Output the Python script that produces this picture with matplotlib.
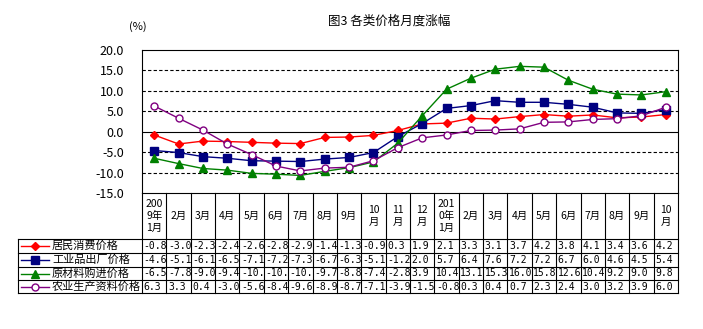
import matplotlib
matplotlib.use("Agg")
import matplotlib.pyplot as plt
from matplotlib.lines import Line2D

plt.rcParams['font.family'] = ['Noto Sans CJK SC', 'DejaVu Sans']
plt.rcParams['axes.unicode_minus'] = False

months = ["200\n9年\n1月", "2月", "3月", "4月", "5月", "6月", "7月", "8月", "9月",
          "10\n月", "11\n月", "12\n月", "201\n0年\n1月", "2月", "3月", "4月", "5月",
          "6月", "7月", "8月", "9月", "10\n月"]

cpi = [-0.8, -3.0, -2.3, -2.4, -2.6, -2.8, -2.9, -1.4, -1.3, -0.9, 0.3, 1.9,
       2.1, 3.3, 3.1, 3.7, 4.2, 3.8, 4.1, 3.4, 3.6, 4.2]
ppi = [-4.6, -5.1, -6.1, -6.5, -7.1, -7.2, -7.3, -6.7, -6.3, -5.1, -1.2, 2.0,
       5.7, 6.4, 7.6, 7.2, 7.2, 6.7, 6.0, 4.6, 4.5, 5.4]
raw = [-6.5, -7.8, -9.0, -9.4, -10.2, -10.4, -10.7, -9.7, -8.8, -7.4, -2.8, 3.9,
       10.4, 13.1, 15.3, 16.0, 15.8, 12.6, 10.4, 9.2, 9.0, 9.8]
agri = [6.3, 3.3, 0.4, -3.0, -5.6, -8.4, -9.6, -8.9, -8.7, -7.1, -3.9, -1.5,
        -0.8, 0.3, 0.4, 0.7, 2.3, 2.4, 3.0, 3.2, 3.9, 6.0]

names = ["居民消费价格", "工业品出厂价格", "原材料购进价格", "农业生产资料价格"]
series = [cpi, ppi, raw, agri]
colors = ["#FF0000", "#000080", "#008000", "#800080"]
markers = ["D", "s", "^", "o"]
msizes = [4, 6, 6, 5]
faces = ["#FF0000", "#000080", "#008000", "white"]

W, H = 703, 329
fig = plt.figure(figsize=(W / 100, H / 100), dpi=100)

# pixel layout
L, R, T, B = 142, 678, 50, 193

ax = fig.add_axes([L / W, 1 - B / H, (R - L) / W, (B - T) / H])
x = list(range(len(months)))
for s, c, m, ms, fc in zip(series, colors, markers, msizes, faces):
    ax.plot(x, s, color=c, lw=1, marker=m, ms=ms, mfc=fc, mec=c, mew=1)
ax.set_xlim(-0.5, len(months) - 0.5)
ax.set_ylim(-15, 20)
ax.set_yticks([-15, -10, -5, 0, 5, 10, 15, 20])
ax.set_yticklabels([f"{v:.1f}" for v in [-15, -10, -5, 0, 5, 10, 15, 20]], fontsize=9)
ax.tick_params(axis='y', length=0, pad=13)
ax.set_xticks([])
for v in [15, 10, 5, -5, -10]:
    ax.axhline(v, color="black", lw=0.8, ls=(0, (3, 2)), zorder=0)
ax.axhline(0, color="black", lw=0.8, zorder=0)
for sp in ax.spines.values():
    sp.set_linewidth(0.8)
ax.spines['bottom'].set_visible(False)

# overlay in pixel coords for title + table
ov = fig.add_axes([0, 0, 1, 1])
ov.set_xlim(0, W)
ov.set_ylim(H, 0)
ov.axis("off")

ov.text(389, 21, "图3 各类价格月度涨幅", ha="center", va="center", fontsize=9)
ov.text(138, 27, "(%)", ha="center", va="center", fontsize=8)

cw = (R - L) / len(months)
hdr_b = 239
rows = [239, 253, 267, 280, 293]

# header row
ov.plot([L, L], [B, rows[-1]], color="black", lw=0.8)
for i, lab in enumerate(months):
    x0 = L + i * cw
    ov.plot([x0 + cw, x0 + cw], [B, rows[-1]], color="black", lw=0.8)
    ov.text(x0 + cw / 2, (B + hdr_b) / 2, lab, ha="center", va="center",
            fontsize=7.5, linespacing=1.25)
ov.plot([L, R], [B, B], color="black", lw=0.8)

# table rows
for yy in rows:
    ov.plot([18, R], [yy, yy], color="black", lw=0.8)
ov.plot([18, 18], [rows[0], rows[-1]], color="black", lw=0.8)

for k, (nm, s, c, m, ms, fc) in enumerate(zip(names, series, colors, markers, msizes, faces)):
    yc = (rows[k] + rows[k + 1]) / 2
    ov.add_line(Line2D([21, 49], [yc, yc], color=c, lw=1))
    ov.plot([35], [yc], marker=m, ms=ms, mfc=fc, mec=c, mew=1, color=c)
    ov.text(52, yc, nm, ha="left", va="center", fontsize=8)
    for i, v in enumerate(s):
        ov.text(L + i * cw + 1.5, yc, f"{v:.1f}"[:4], ha="left", va="center",
                fontsize=7, family="DejaVu Sans Mono")

fig.savefig("out.png", dpi=100)
